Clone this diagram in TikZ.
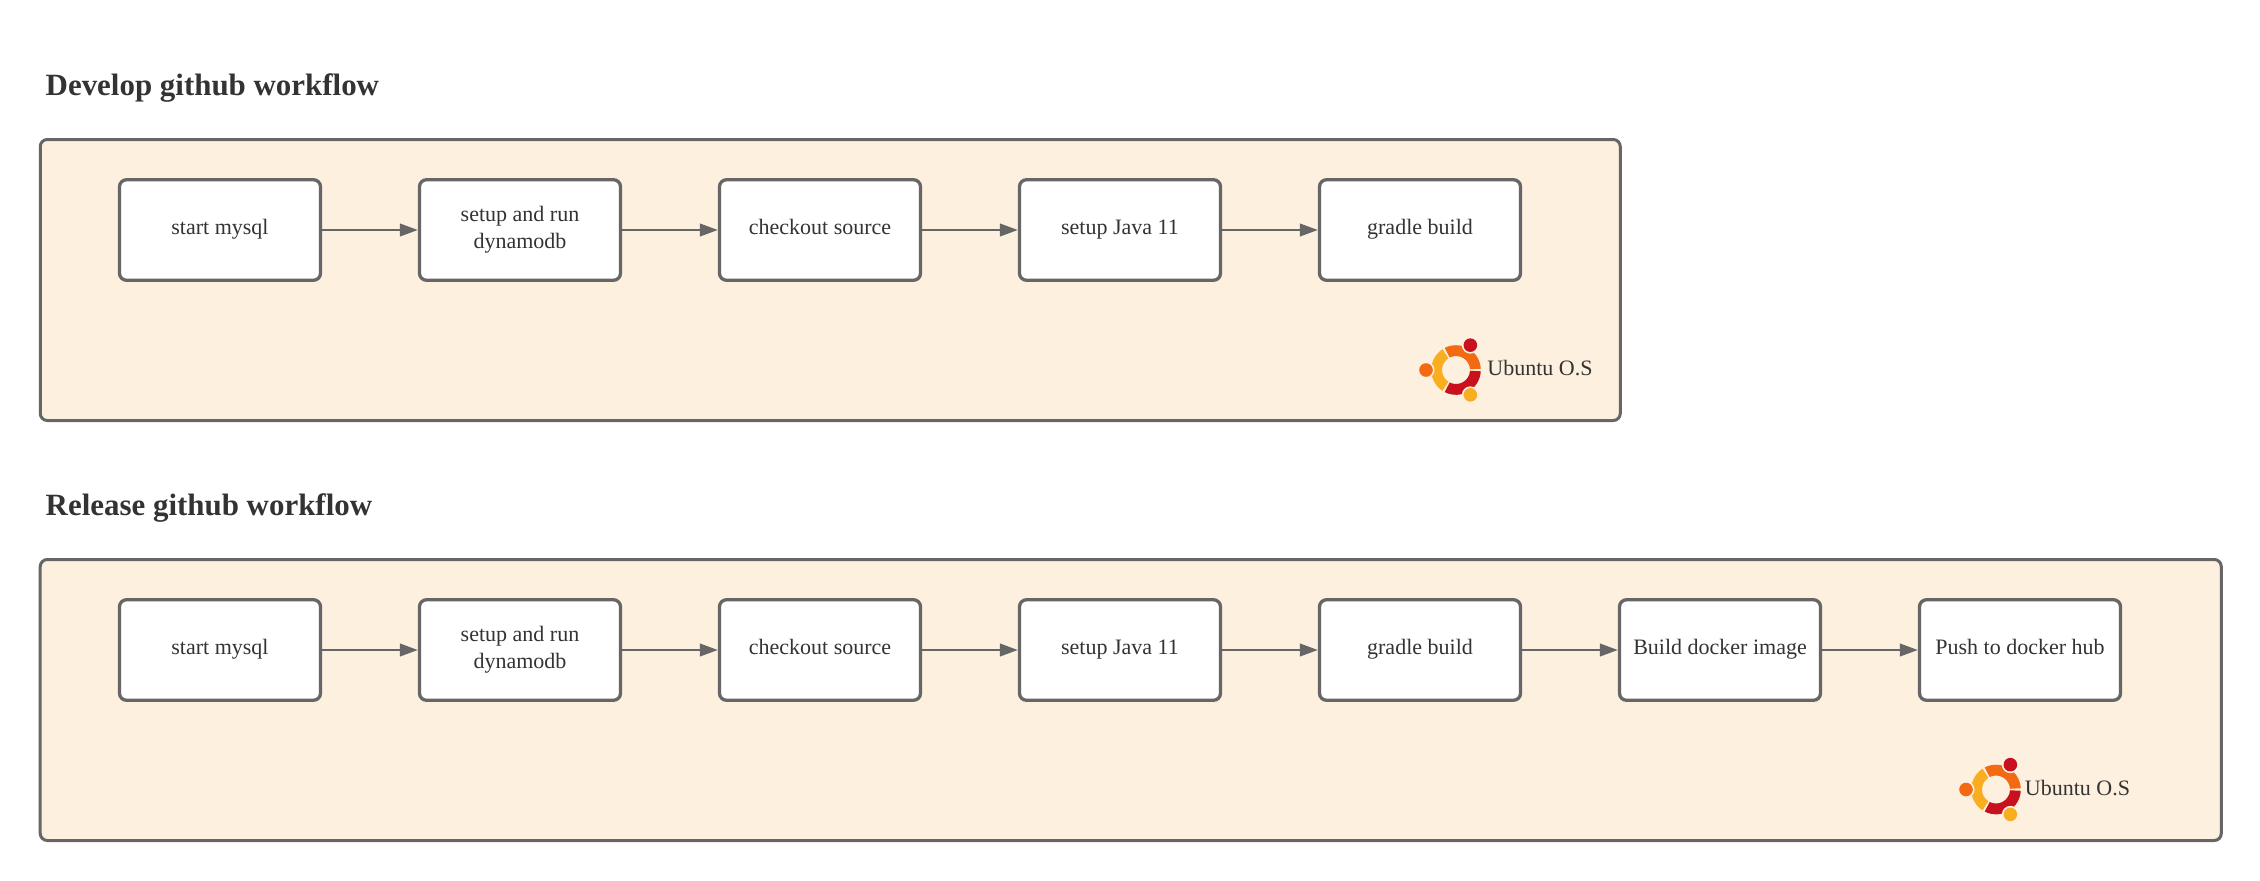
\documentclass[tikz,border=0pt]{standalone}
\usepackage{fontspec}
\setmainfont{Liberation Serif}
\usetikzlibrary{arrows.meta, positioning}
\definecolor{panelfill}{HTML}{FDF0DF}
\definecolor{edgegray}{HTML}{666666}
\definecolor{textgray}{HTML}{333333}
\definecolor{ubuorange}{HTML}{F26A12}
\definecolor{ubured}{HTML}{C8101E}
\definecolor{ubuyellow}{HTML}{F9AE22}
\tikzstyle{panel} = [rectangle, rounded corners=0.07cm, line width=0.03cm, draw=edgegray, fill=panelfill]
\tikzstyle{basebox} = [rectangle, rounded corners=0.07cm, minimum width=2.01cm, minimum height=1.005cm, inner sep=0pt, line width=0.033cm, draw=edgegray, fill=white, text=textgray, align=center, font=\fontsize{6.26pt}{7.68pt}\selectfont]
\tikzstyle{stepbox} = [basebox, execute at begin node={\rule{0pt}{5.38pt}}, execute at end node={\rule[-3.1pt]{0pt}{3.1pt}}]
\tikzstyle{wrapbox} = [basebox, execute at begin node={\rule{0pt}{4.78pt}}, execute at end node={\rule[-1.36pt]{0pt}{1.36pt}}]
\tikzstyle{heading} = [anchor=base west, inner sep=0pt, text=textgray, font=\fontsize{8.8pt}{10pt}\selectfont\bfseries]
\tikzstyle{oslabel} = [inner sep=0pt, text=textgray, font=\fontsize{6.26pt}{7.68pt}\selectfont]
\tikzstyle{arrow} = [line width=0.024cm, draw=edgegray, -{Triangle[length=0.18cm,width=0.125cm]}]
\tikzset{ubuntulogo/.pic={
  \fill[ubuorange] (3:0.248) arc[start angle=3,end angle=117,radius=0.248] -- (117:0.14) arc[start angle=117,end angle=3,radius=0.14] -- cycle;
  \fill[ubuyellow] (123:0.248) arc[start angle=123,end angle=237,radius=0.248] -- (237:0.14) arc[start angle=237,end angle=123,radius=0.14] -- cycle;
  \fill[ubured] (243:0.248) arc[start angle=243,end angle=357,radius=0.248] -- (357:0.14) arc[start angle=357,end angle=243,radius=0.14] -- cycle;
  \fill[panelfill] (60:0.287) circle (0.085);
  \fill[panelfill] (180:0.3) circle (0.085);
  \fill[panelfill] (300:0.287) circle (0.085);
  \fill[ubured] (60:0.287) circle (0.068);
  \fill[ubuorange] (180:0.3) circle (0.068);
  \fill[ubuyellow] (300:0.287) circle (0.068);
}}

\begin{document}
\begin{tikzpicture}[node distance=3cm]
\useasboundingbox (0,0) rectangle (22.6,-8.8);

% develop row
\node (devtitle) [heading] at (0.45,-0.95) {Develop github workflow};
\node (devpanel) [panel, minimum width=15.8cm, minimum height=2.81cm] at (8.3025,-2.8) {};
\node (devmysql) [stepbox] at (2.2,-2.3) {start mysql};
\node (devdynamo) [wrapbox, right of=devmysql] {setup and run\\dynamodb};
\node (devcheckout) [stepbox, right of=devdynamo] {checkout source};
\node (devjava) [stepbox, right of=devcheckout] {setup Java 11};
\node (devgradle) [stepbox, right of=devjava] {gradle build};
\pic at (14.56,-3.70) {ubuntulogo};
\node (devos) [oslabel] at (15.4,-3.68) {Ubuntu O.S};

\draw [arrow] (devmysql) -- (devdynamo);
\draw [arrow] (devdynamo) -- (devcheckout);
\draw [arrow] (devcheckout) -- (devjava);
\draw [arrow] (devjava) -- (devgradle);

% release row
\node (reltitle) [heading] at (0.45,-5.15) {Release github workflow};
\node (relpanel) [panel, minimum width=21.81cm, minimum height=2.81cm] at (11.3075,-7) {};
\node (relmysql) [stepbox] at (2.2,-6.5) {start mysql};
\node (reldynamo) [wrapbox, right of=relmysql] {setup and run\\dynamodb};
\node (relcheckout) [stepbox, right of=reldynamo] {checkout source};
\node (reljava) [stepbox, right of=relcheckout] {setup Java 11};
\node (relgradle) [stepbox, right of=reljava] {gradle build};
\node (reldocker) [stepbox, right of=relgradle] {Build docker image};
\node (relpush) [stepbox, right of=reldocker] {Push to docker hub};
\pic at (19.96,-7.895) {ubuntulogo};
\node (relos) [oslabel] at (20.775,-7.88) {Ubuntu O.S};

\draw [arrow] (relmysql) -- (reldynamo);
\draw [arrow] (reldynamo) -- (relcheckout);
\draw [arrow] (relcheckout) -- (reljava);
\draw [arrow] (reljava) -- (relgradle);
\draw [arrow] (relgradle) -- (reldocker);
\draw [arrow] (reldocker) -- (relpush);

\end{tikzpicture}
\end{document}
